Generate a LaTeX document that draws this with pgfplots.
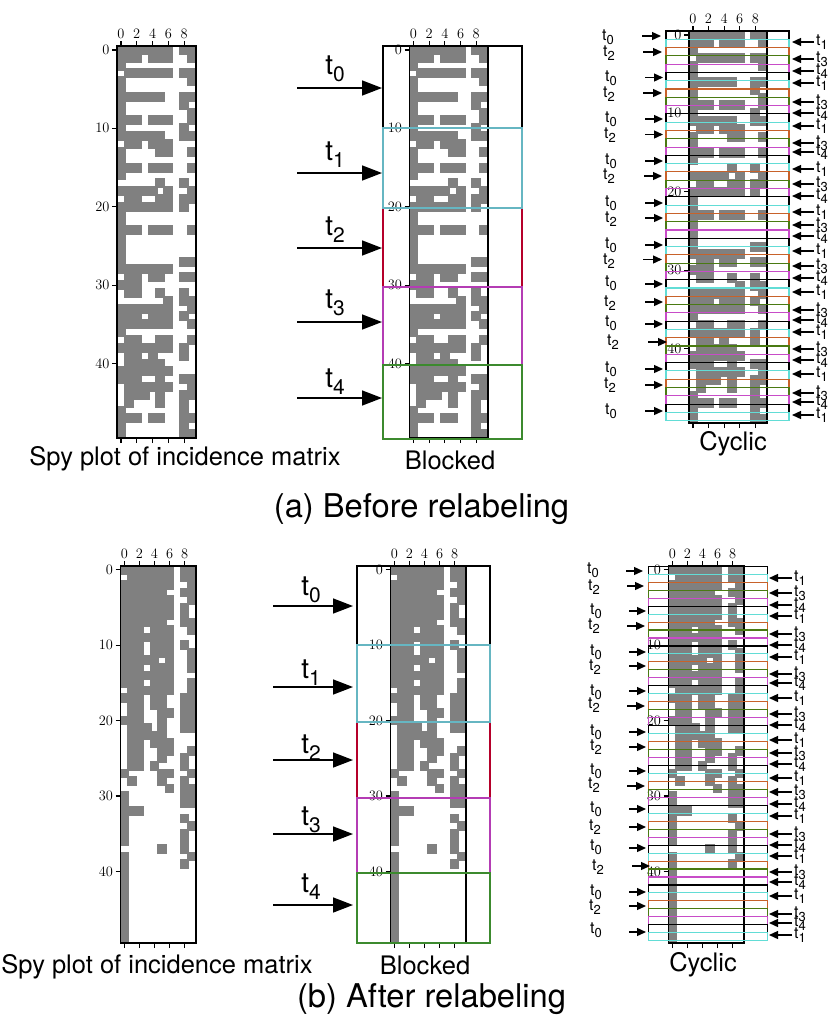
\documentclass[border=0pt]{standalone}
\usepackage{fontspec}
\setmainfont{TeX Gyre Heros}
\usepackage{pgfplots}
\usepackage{pgfplotstable}
\pgfplotsset{compat=1.18}
\usetikzlibrary{arrows.meta}

\definecolor{spygray}{HTML}{808080}
\definecolor{cyc0}{HTML}{000000}
\definecolor{cyc1}{HTML}{62DDD6}
\definecolor{cyc2}{HTML}{C8622A}
\definecolor{cyc3}{HTML}{4A7A12}
\definecolor{cyc4}{HTML}{C84CC8}
\definecolor{blkcyan}{HTML}{66B6C2}
\definecolor{blkred}{HTML}{B5002A}
\definecolor{blkmag}{HTML}{B43CB4}
\definecolor{blkgreen}{HTML}{3C8A2E}

% incidence matrix before relabeling
\pgfplotstableread{
r c0 c1 c2 c3 c4 c5 c6 c7 c8 c9
0 1 1 1 1 1 1 1 0 1 1
1 1 1 1 0 1 1 1 0 0 1
2 1 0 0 0 0 0 0 0 0 0
3 0 1 1 1 1 1 1 0 1 1
4 1 0 0 0 0 0 0 0 0 1
5 1 0 0 0 0 0 0 0 0 0
6 1 1 1 1 1 1 0 0 1 1
7 1 0 0 0 0 0 0 0 1 0
8 1 0 0 0 0 0 0 0 0 1
9 1 1 1 0 1 1 1 0 0 1
10 1 0 0 0 0 0 0 0 1 0
11 1 1 1 1 1 1 0 0 1 1
12 0 1 1 0 1 1 1 0 0 0
13 1 0 0 0 0 1 1 0 0 1
14 1 0 0 0 0 0 0 0 0 0
15 1 1 1 0 1 1 1 0 0 1
16 1 0 0 0 0 0 0 0 0 0
17 0 0 0 0 0 1 0 0 1 0
18 1 1 1 1 1 0 1 0 0 1
19 0 1 1 0 0 1 1 0 1 1
20 1 1 1 1 1 1 1 0 1 0
21 1 0 0 0 0 0 0 0 0 0
22 1 0 0 0 0 0 0 0 0 0
23 1 1 1 0 1 1 1 0 0 1
24 1 0 0 0 0 0 0 0 0 0
25 1 0 0 0 0 0 0 0 0 0
26 1 0 0 0 0 0 0 0 0 0
27 1 0 0 0 0 0 0 0 1 1
28 1 1 1 1 1 1 1 0 0 0
29 0 1 1 0 1 1 0 0 1 1
30 1 1 1 0 0 0 0 0 0 0
31 0 1 1 0 0 1 0 0 1 0
32 0 0 0 0 0 0 1 0 1 1
33 1 1 1 1 1 1 1 0 0 1
34 1 1 1 0 1 1 1 0 1 0
35 1 1 1 1 1 1 1 0 0 1
36 1 0 0 0 0 0 0 0 0 0
37 0 1 1 0 0 1 1 0 0 1
38 1 1 1 1 1 1 1 0 1 0
39 0 1 1 0 1 0 0 0 1 0
40 0 1 1 1 1 1 0 0 0 0
41 1 1 1 1 1 1 1 0 0 0
42 1 1 1 0 0 1 0 0 1 1
43 0 1 1 1 1 1 1 0 0 1
44 0 1 1 1 0 1 0 0 1 1
45 0 1 0 0 0 1 0 0 1 0
46 1 0 0 0 0 0 0 0 1 0
47 1 1 1 0 1 1 0 0 1 1
48 1 0 0 0 0 0 0 0 1 0
49 1 0 0 0 0 0 0 0 1 1
}\matA

% incidence matrix after relabeling
\pgfplotstableread{
r c0 c1 c2 c3 c4 c5 c6 c7 c8 c9
0 1 1 1 1 1 1 1 0 1 1
1 0 1 1 1 1 1 1 0 1 1
2 1 1 1 1 1 1 1 0 0 1
3 1 1 1 1 1 1 0 0 1 1
4 1 1 1 1 1 1 1 0 0 1
5 1 1 1 1 1 1 1 0 1 0
6 1 1 1 1 1 1 1 0 1 0
7 1 1 1 1 1 1 0 0 1 1
8 1 1 1 0 1 1 1 0 0 1
9 1 1 1 1 1 1 1 0 0 0
10 1 1 1 0 1 1 1 0 1 0
11 1 1 1 0 1 1 1 0 0 1
12 1 1 1 1 1 0 1 0 0 1
13 1 1 1 0 1 1 1 0 0 1
14 1 1 1 1 1 1 1 0 0 0
15 1 1 1 0 1 1 1 0 0 1
16 0 1 1 1 1 1 1 0 0 1
17 1 1 1 0 1 1 0 0 1 1
18 0 1 1 0 1 1 0 0 1 1
19 0 1 1 0 0 1 1 0 1 1
20 1 1 1 0 0 1 0 0 1 1
21 0 1 1 1 0 1 0 0 1 1
22 0 1 1 1 1 1 0 0 0 0
23 0 1 1 0 1 1 1 0 0 0
24 0 1 1 0 0 1 1 0 0 1
25 0 1 1 0 0 1 0 0 1 0
26 0 1 1 0 1 0 0 0 1 0
27 1 0 0 0 0 1 1 0 0 1
28 0 1 0 0 0 1 0 0 1 0
29 0 0 0 0 0 0 1 0 1 1
30 1 0 0 0 0 0 0 0 1 1
31 1 0 0 0 0 0 0 0 1 1
32 1 1 1 0 0 0 0 0 0 0
33 1 0 0 0 0 0 0 0 1 0
34 1 0 0 0 0 0 0 0 0 1
35 1 0 0 0 0 0 0 0 1 0
36 1 0 0 0 0 0 0 0 1 0
37 0 0 0 0 0 1 0 0 1 0
38 1 0 0 0 0 0 0 0 0 1
39 1 0 0 0 0 0 0 0 1 0
40 1 0 0 0 0 0 0 0 0 0
41 1 0 0 0 0 0 0 0 0 0
42 1 0 0 0 0 0 0 0 0 0
43 1 0 0 0 0 0 0 0 0 0
44 1 0 0 0 0 0 0 0 0 0
45 1 0 0 0 0 0 0 0 0 0
46 1 0 0 0 0 0 0 0 0 0
47 1 0 0 0 0 0 0 0 0 0
48 1 0 0 0 0 0 0 0 0 0
49 1 0 0 0 0 0 0 0 0 0
}\matB

\pgfplotsset{spyax/.style={
    anchor=north west, scale only axis,
    y dir=reverse,
    xmin=-0.5, xmax=9.5, ymin=-0.5, ymax=49.5,
    xtick={0,2,4,6,8}, ytick={0,10,20,30,40},
    xticklabel pos=top, xtick pos=both, ytick pos=left,
    tick align=outside, major tick length=5pt,
    tick style={black, line width=1.2pt},
    axis line style={line width=1.5pt},
    tick label style={font=\fontsize{14.4}{15}\selectfont},
    x tick label style={yshift=-1pt},
    y tick label style={xshift=1pt},
    clip marker paths=true, axis on top,
}}

% x, y of the top left corner, width, height, table, mark size
\newcommand{\spy}[6]{%
  \begin{axis}[spyax, at={(#1pt,-#2pt)}, width=#3pt, height=#4pt]
  \pgfplotsinvokeforeach{0,...,9}{
    \addplot[only marks, color=spygray, mark=square*, mark size=#6pt,
      mark options={solid, line width=0pt}]
      table[x expr=##1, y=r, restrict expr to domain={\thisrow{c##1}}{0.5:1.5}] {#5};
  }
  \end{axis}}

\newcommand{\smt}[1]{{\fontsize{16}{16}\selectfont t\raisebox{-4pt}{\fontsize{13}{13}\selectfont #1}}}
\newcommand{\lgt}[1]{{\fontsize{28}{28}\selectfont t\raisebox{-7pt}{\fontsize{21}{21}\selectfont #1}}}

\tikzset{
  sar/.style={-{Triangle[length=9pt,width=8pt]}, line width=1.3pt},
  lar/.style={-{Triangle[length=20pt,width=15pt]}, line width=1.5pt},
  txt/.style={inner sep=0pt, font=\fontsize{25.5}{26}\selectfont},
  captxt/.style={inner sep=0pt, font=\fontsize{32.7}{33}\selectfont},
}

% x0, x1, top, step of the cyclic rectangles
\newcommand{\cyc}[4]{%
  \foreach \i in {0,...,46}{
    \pgfmathtruncatemacro\k{mod(\i,5)}
    \draw[color=cyc\k, line width=1.1pt] (#1,{#3+\i*#4}) rectangle (#2,{#3+(\i+1)*#4});
  }}

\begin{document}
\begin{tikzpicture}
\path[use as bounding box] (0,0) rectangle (830pt,-1029pt);

\spy{117}{46}{79}{392}{\matA}{4.5}
\spy{409.5}{46}{78.5}{392}{\matA}{4.5}
\spy{689}{31}{78}{392}{\matA}{4.5}
\spy{120.5}{566}{75.5}{377}{\matB}{4.3}
\spy{390.5}{566}{75.5}{377}{\matB}{4.3}
\spy{668.5}{566}{75.5}{377}{\matB}{4.3}

\begin{scope}[x=1pt,y=-1pt]
% blocked rectangles
\foreach \c/\a/\b in {black/46/128, blkred/208/287, blkcyan/128/208, blkmag/287/365, blkgreen/365/439}
  \draw[color=\c, line width=2pt] (383,\a) rectangle (522,\b);
\foreach \c/\a/\b in {black/566/645, blkred/722/798, blkcyan/645/722, blkmag/798/873, blkgreen/873/943}
  \draw[color=\c, line width=2pt] (356.5,\a) rectangle (490,\b);

\foreach \l/\y/\ly in {0/88/69, 1/173/155, 2/248/230, 3/322/303, 4/398/382}{
  \draw[lar] (297,\y) -- (382,\y);
  \node at (335,\ly) {\lgt{\l}};
}
\foreach \l/\y/\ly in {0/606/590, 1/687/673, 2/760/748, 3/834/820, 4/905/887}{
  \draw[lar] (273,\y) -- (353,\y);
  \node at (311,\ly) {\lgt{\l}};
}

% cyclic rectangles
\cyc{666}{789}{31}{8.29}
\cyc{648.5}{767.5}{566.3}{7.966}

% label, label x, label y, arrow start, arrow end, arrow y
\foreach \l/\lx/\ly/\a/\b/\y in {0/608/37/642/661/36, 2/609/53/643/662/52, 0/611/78/645/663/77.5, 2/609/94/643/662/93,
  0/611/119/645/663/119, 2/610/135/645/663/134.5, 0/611/161/645/663/161, 2/609/176/644/662/176,
  0/611/203/645/663/203, 2/611/219/645/663/218, 0/611/245/645/663/245, 2/609/261/643/662/259.5,
  0/611/283/645/663/284, 2/610/303/645/663/302, 0/611/323/645/663/324, 2/613/342/648/667/342,
  0/611/369/645/663/369, 2/610/385/645/663/385, 0/611/411/645/663/411,
  0/593/570/626/643/571, 2/594/587/627/644/586, 0/596/611/629/646/611, 2/594/626/627/645/626,
  0/596/652/629/646/652, 2/595/667/629/646/666, 0/596/692/629/646/691, 2/594/705/627/645/706,
  0/596/732/629/646/732, 2/596/747/629/646/747, 0/596/771/629/646/771, 2/594/785/627/645/786,
  0/596/809/629/646/809, 2/595/827/629/646/827, 0/596/847/629/646/848, 2/598/867/632/650/866,
  0/596/892/629/646/892, 2/595/907/629/646/906, 0/596/930/629/646/932}{
  \draw[sar] (\a,\y) -- (\b,\y);
  \node at (\lx,\ly) {\smt{\l}};
}

\foreach \l/\y in {1/42,3/59,4/71,1/83,3/102,4/113,1/126,3/143,4/152,1/169,3/184,4/196,1/212,3/225,4/236,
  1/251,3/266,4/278,1/292,3/310,4/320,1/332,3/349,4/360,1/374,3/393,4/402,1/415}{
  \draw[sar] (814,\y) -- (792,\y);
  \node[anchor=west, inner sep=0pt] at (816,\y) {\smt{\l}};
}
\foreach \l/\y in {1/578,3/593,4/605,1/616,3/634,4/645,1/657,3/674,4/683,1/698,3/714,4/725,1/740,3/753,4/764,
  1/778,3/792,4/804,1/816,3/834,4/845,1/856,3/872,4/882,1/896,3/914,4/923,1/935}{
  \draw[sar] (792,\y) -- (769,\y);
  \node[anchor=west, inner sep=0pt] at (794,\y) {\smt{\l}};
}

% captions
\node[txt] at (185,459) {Spy plot of incidence matrix};
\node[txt] at (450,460) {Blocked};
\node[txt] at (733,444) {Cyclic};
\node[captxt] at (421.5,509) {(a) Before relabeling};
\node[txt] at (157,967) {Spy plot of incidence matrix};
\node[txt] at (425,965) {Blocked};
\node[txt] at (703,965) {Cyclic};
\node[captxt] at (431.5,999) {(b) After relabeling};
\end{scope}
\end{tikzpicture}
\end{document}
